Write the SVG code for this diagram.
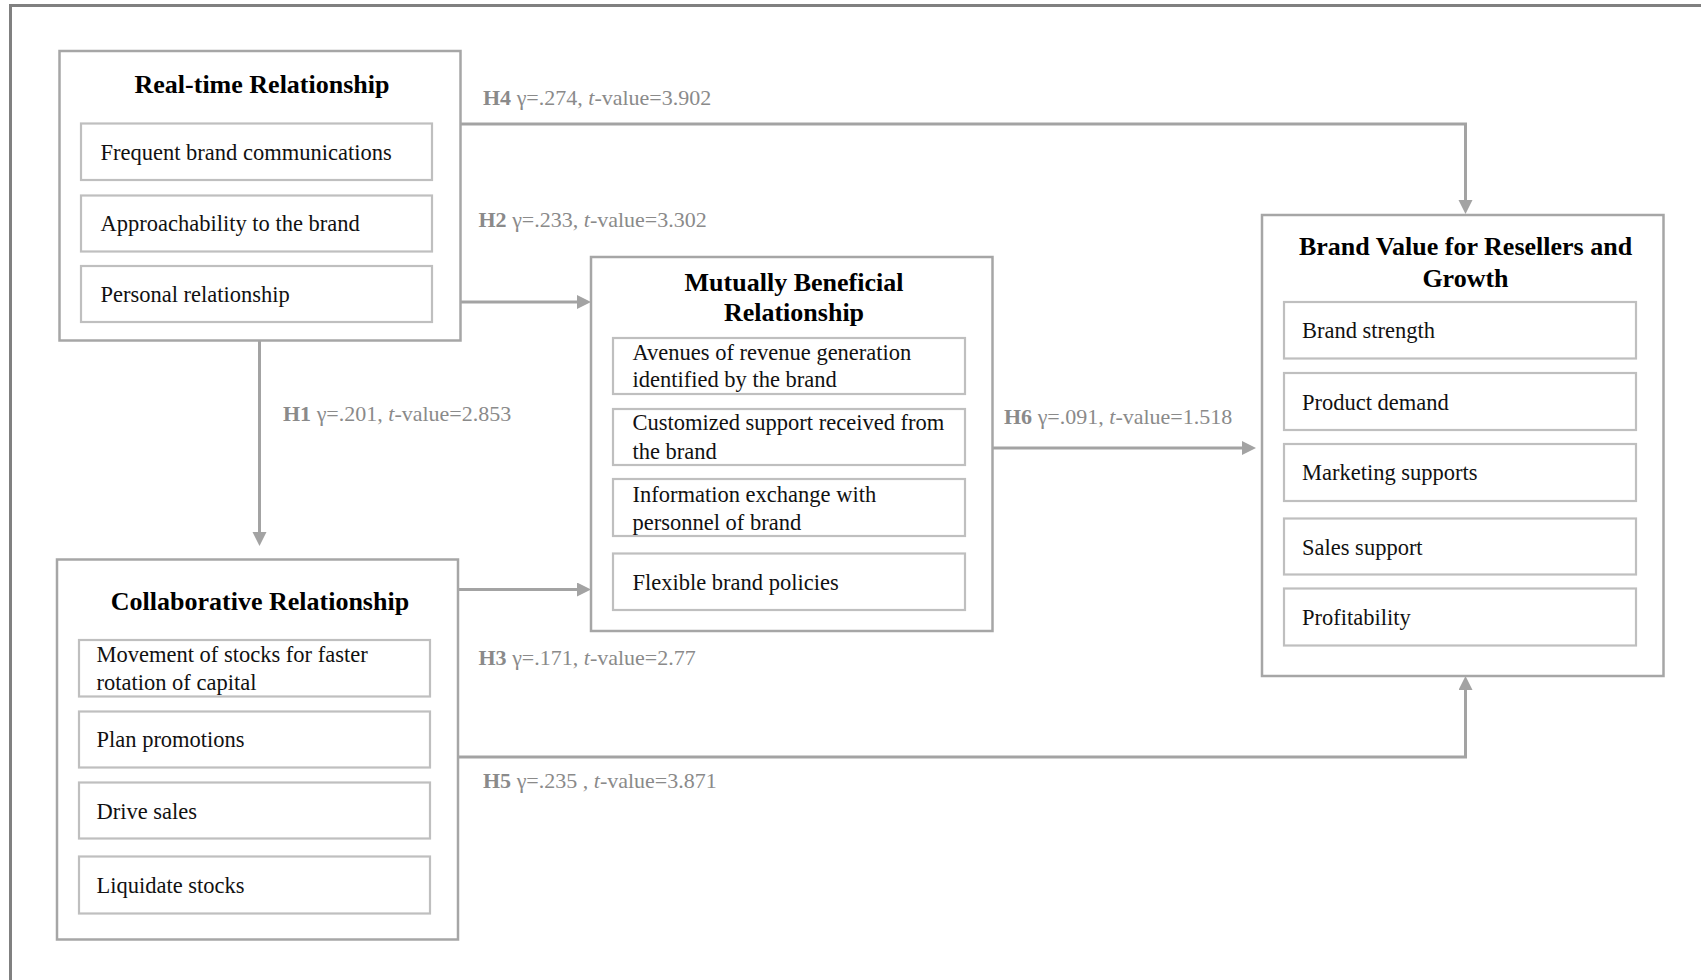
<svg xmlns="http://www.w3.org/2000/svg" width="1701" height="980" viewBox="0 0 1701 980">
<style>
  .frame{fill:none;stroke:#808080;stroke-width:3}
  .box{fill:#fff;stroke:#a6a6a6;stroke-width:2.5}
  .sub{fill:#fff;stroke:#bfbfbf;stroke-width:2.2}
  .title{font-family:"Liberation Serif","Times New Roman",serif;font-size:26px;font-weight:bold;fill:#000;text-anchor:middle}
  .item{font-family:"Liberation Serif","Times New Roman",serif;font-size:22.5px;fill:#111}
  .lbl{font-family:"Liberation Serif","Times New Roman",serif;font-size:22px;fill:#8a8a8a}
  .lbl .b{font-weight:bold}
  .lbl .i{font-style:italic}
  .conn{fill:none;stroke:#a3a3a3;stroke-width:3}
</style>
<defs>
  <marker id="arr" markerUnits="userSpaceOnUse" markerWidth="16" markerHeight="16" refX="4" refY="7" orient="auto">
    <path d="M0,0 L14,7 L0,14 z" fill="#a3a3a3"/>
  </marker>
</defs>
<rect x="0" y="0" width="1701" height="980" fill="#fff"/>
<rect class="frame" x="10.5" y="5.5" width="1720" height="1000"/>

<g id="connectors">
  <path class="conn" d="M460,124 H1465.5 V204" marker-end="url(#arr)"/>
  <path class="conn" d="M460,302 H581" marker-end="url(#arr)"/>
  <path class="conn" d="M259.5,341 V536" marker-end="url(#arr)"/>
  <path class="conn" d="M458,589.5 H581" marker-end="url(#arr)"/>
  <path class="conn" d="M992,448 H1246" marker-end="url(#arr)"/>
  <path class="conn" d="M458,757 H1465.5 V686" marker-end="url(#arr)"/>
  <text class="lbl" x="483" y="105"><tspan class="b">H4</tspan> γ=.274, <tspan class="i">t</tspan>-value=3.902</text>
  <text class="lbl" x="478.5" y="226.5"><tspan class="b">H2</tspan> γ=.233, <tspan class="i">t</tspan>-value=3.302</text>
  <text class="lbl" x="283" y="420.5"><tspan class="b">H1</tspan> γ=.201, <tspan class="i">t</tspan>-value=2.853</text>
  <text class="lbl" x="1004" y="423.5"><tspan class="b">H6</tspan> γ=.091, <tspan class="i">t</tspan>-value=1.518</text>
  <text class="lbl" x="478.5" y="665"><tspan class="b">H3</tspan> γ=.171, <tspan class="i">t</tspan>-value=2.77</text>
  <text class="lbl" x="483" y="787.5"><tspan class="b">H5</tspan> γ=.235 , <tspan class="i">t</tspan>-value=3.871</text>
</g>

<g id="realtime">
  <rect class="box" x="59.5" y="51" width="401" height="289.5"/>
  <text class="title" x="262" y="93">Real-time Relationship</text>
  <rect class="sub" x="81" y="123.5" width="351" height="56.5"/>
  <text class="item" x="100.5" y="160">Frequent brand communications</text>
  <rect class="sub" x="81" y="195.5" width="351" height="56"/>
  <text class="item" x="100.5" y="231">Approachability  to the brand</text>
  <rect class="sub" x="81" y="266" width="351" height="56"/>
  <text class="item" x="100.5" y="302">Personal relationship</text>
</g>

<g id="collaborative">
  <rect class="box" x="57" y="559.5" width="401" height="380"/>
  <text class="title" x="260" y="610">Collaborative Relationship</text>
  <rect class="sub" x="79" y="640" width="351" height="56.5"/>
  <text class="item" x="96.5" y="662">Movement  of stocks for faster</text>
  <text class="item" x="96.5" y="690">rotation of capital</text>
  <rect class="sub" x="79" y="711.5" width="351" height="56"/>
  <text class="item" x="96.5" y="747">Plan promotions</text>
  <rect class="sub" x="79" y="782.5" width="351" height="56"/>
  <text class="item" x="96.5" y="819">Drive  sales</text>
  <rect class="sub" x="79" y="856.5" width="351" height="57"/>
  <text class="item" x="96.5" y="892.5">Liquidate  stocks</text>
</g>

<g id="mutually">
  <rect class="box" x="591" y="257" width="401.5" height="374"/>
  <text class="title" x="794" y="290.5">Mutually Beneficial</text>
  <text class="title" x="794" y="321">Relationship</text>
  <rect class="sub" x="613" y="338" width="352" height="56"/>
  <text class="item" x="632.5" y="359.5">Avenues  of revenue  generation</text>
  <text class="item" x="632.5" y="387">identified  by the brand</text>
  <rect class="sub" x="613" y="409" width="352" height="56"/>
  <text class="item" x="632.5" y="430">Customized support received  from</text>
  <text class="item" x="632.5" y="458.5">the  brand</text>
  <rect class="sub" x="613" y="479" width="352" height="57"/>
  <text class="item" x="632.5" y="502">Information  exchange  with</text>
  <text class="item" x="632.5" y="529.5">personnel of brand</text>
  <rect class="sub" x="613" y="553.5" width="352" height="56.5"/>
  <text class="item" x="632.5" y="590">Flexible  brand policies</text>
</g>

<g id="brandvalue">
  <rect class="box" x="1262" y="215" width="401.5" height="461"/>
  <text class="title" x="1465.5" y="255">Brand Value for Resellers and</text>
  <text class="title" x="1465.5" y="287">Growth</text>
  <rect class="sub" x="1284" y="302" width="352" height="56.5"/>
  <text class="item" x="1302" y="337.5">Brand  strength</text>
  <rect class="sub" x="1284" y="373" width="352" height="57"/>
  <text class="item" x="1302" y="409.5">Product demand</text>
  <rect class="sub" x="1284" y="444" width="352" height="57"/>
  <text class="item" x="1302" y="480">Marketing  supports</text>
  <rect class="sub" x="1284" y="518.5" width="352" height="56"/>
  <text class="item" x="1302" y="555">Sales support</text>
  <rect class="sub" x="1284" y="588.5" width="352" height="57"/>
  <text class="item" x="1302" y="625">Profitability</text>
</g>
</svg>
